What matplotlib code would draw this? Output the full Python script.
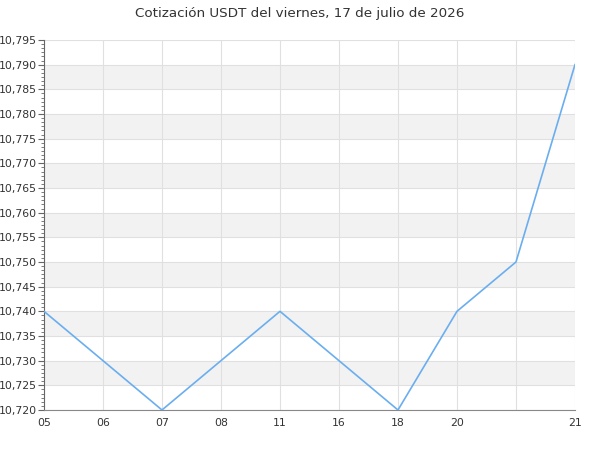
import matplotlib
matplotlib.use("Agg")
import matplotlib.pyplot as plt
from matplotlib.ticker import MultipleLocator, AutoMinorLocator, FuncFormatter

# Data
labels = ['05', '06', '07', '08', '11', '16', '18', '20', '', '21']
prices = [10.740, 10.730, 10.720, 10.730, 10.740, 10.730, 10.720, 10.740, 10.750, 10.790]

x = list(range(len(prices)))

fig = plt.figure(figsize=(6, 4.5), dpi=100)
ax = fig.add_axes([0.0733, 0.0889, 0.885, 0.8222])

# alternating bands
y0, y1 = 10.720, 10.795
step = 0.005
k = 0
v = y0
while v < y1 - 1e-9:
    if k % 2 == 1:
        ax.axhspan(v, v + step, color='#f2f2f2', zorder=0, lw=0)
    v = round(v + step, 3)
    k += 1

ax.plot(x, prices, color='#6aaef0', lw=1.2, zorder=3)

ax.set_xlim(0, len(prices) - 1)
ax.set_ylim(y0, y1)
ax.set_xticks(x)
ax.set_xticklabels(labels)
ax.yaxis.set_major_locator(MultipleLocator(0.005))
ax.yaxis.set_minor_locator(AutoMinorLocator(6))
ax.yaxis.set_major_formatter(FuncFormatter(lambda val, p: f"{val:.3f}".replace('.', ',')))

ax.grid(True, which='major', color='#e0e0e0', lw=0.8, zorder=1)
ax.set_axisbelow(True)

for s in ['top', 'right']:
    ax.spines[s].set_visible(False)
ax.spines['left'].set_color('#666666')
ax.spines['bottom'].set_color('#888888')

ax.tick_params(axis='y', which='major', length=4, color='#666666', labelsize=7.8, labelcolor='#333333', pad=1)
ax.tick_params(axis='y', which='minor', length=2.5, color='#666666')
ax.tick_params(axis='x', length=0, labelsize=7.8, labelcolor='#333333', pad=6)

fig.suptitle('Cotización USDT del viernes, 17 de julio de 2026', fontsize=9.7, color='#333333', y=0.985)

fig.savefig('out.png', dpi=100)
